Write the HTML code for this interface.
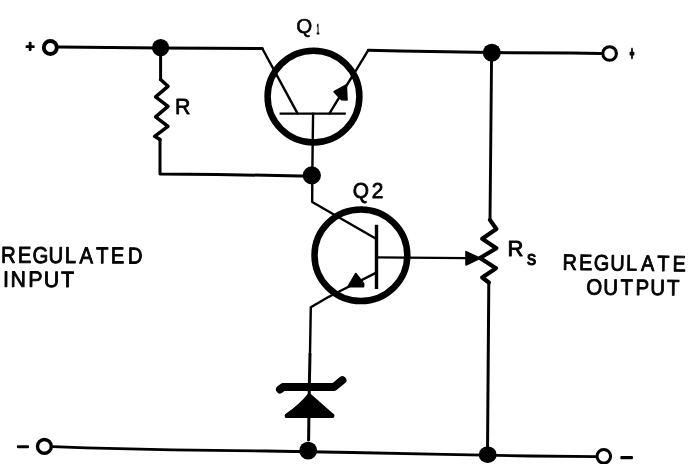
<!DOCTYPE html>
<html>
<head>
<meta charset="utf-8">
<title>Series voltage regulator</title>
<style>
html,body{margin:0;padding:0;background:#fff;}
body{width:688px;height:464px;overflow:hidden;}
svg{display:block;}
text{font-family:"Liberation Sans",sans-serif;fill:#000;stroke:#000;stroke-linejoin:round;}
.w{fill:none;stroke:#000;stroke-width:3;stroke-linecap:round;stroke-linejoin:round;}
.n{fill:none;stroke:#000;stroke-width:2.4;stroke-linecap:round;stroke-linejoin:round;}
.z{fill:none;stroke:#000;stroke-width:3.5;stroke-linecap:round;stroke-linejoin:round;}
.t{fill:none;stroke:#000;stroke-width:2.4;stroke-linecap:butt;}
.v{fill:none;stroke:#000;stroke-width:3.4;stroke-linecap:butt;stroke-linejoin:round;}
.c{fill:none;stroke:#000;stroke-width:6.5;}
.o{fill:#fff;stroke:#000;}
.d{fill:#000;stroke:#000;stroke-width:1.6;stroke-linejoin:round;}
.k{fill:#000;stroke:none;}
</style>
</head>
<body>
<svg width="688" height="464" viewBox="0 0 688 464">
<rect width="688" height="464" fill="#fff"/>

<!-- top rail, input side -->
<path class="w" d="M58 46.9 L160 47.9 L262.3 48.5"/>
<!-- Q1 collector -->
<path class="n" d="M262.3 48.5 L297.5 113.4"/>
<!-- Q1 emitter -->
<path class="n" d="M329.5 113.4 L345 88 L356.3 69.8 L368.3 50.2"/>
<!-- top rail, output side -->
<path class="w" d="M368.3 50.2 L400 51 L492 52.6 L572 53.1 L601 53.4"/>
<!-- resistor R and wire to Q1 base node -->
<path class="w" d="M160.6 48 L160.6 79.5"/>
<path class="z" d="M160.6 79.5 L168 86.3 L155.6 96.9 L168 106.3 L155.6 116.9 L168 126.3 L154.6 136.3 L160 139.6"/>
<path class="w" d="M160 139.6 L160 174.1 L216 174.4 L300 176 L311 176"/>
<!-- Q1 -->
<circle class="c" cx="313.5" cy="96.6" r="45.9"/>
<path class="t" d="M279.6 113.6 L345.8 113.6"/>
<path class="n" d="M313.1 113.6 L312.6 150 L312.3 176"/>
<polygon class="d" points="334,91.8 346.3,85 347,100 341.5,99.6"/>
<!-- Q2 -->
<path class="n" d="M312.3 176 L312.2 202 L376 238.8"/>
<ellipse class="c" cx="360.9" cy="255.2" rx="46.4" ry="45.8"/>
<path class="v" d="M376.5 224.8 L376.5 289"/>
<path class="n" d="M376.5 257.4 L466 258.1"/>
<path class="n" d="M376.3 272.6 L327.5 297.5 L310.8 307.3 L310 354"/>
<path class="w" d="M310 354 L309.3 386 L308.6 440"/>
<polygon class="d" points="348,286.6 355.8,273.5 363.6,283.5 363.6,286.6"/>
<!-- zener diode -->
<path d="M280 389.4 L283 387 L334 387 L342.4 380.2" fill="none" stroke="#000" stroke-width="8" stroke-linecap="round" stroke-linejoin="round"/>
<path class="d" d="M309.2 393.5 L333.6 415 Q334 417.3 332 417.3 L287 417.3 Q285 417.3 285.6 415 Q300 405 309.2 393.5 Z"/>
<!-- bottom rail -->
<path class="w" style="stroke-width:2.8" d="M53 446.6 L86 447.8 L172 449.8 L266 451 L352 452.5 L444 454.4 L530 456 L596 456.7"/>
<!-- output divider with Rs -->
<path class="v" style="stroke-width:2.9" d="M491.6 52.6 L490.8 139 L490 220.5"/>
<path class="z" style="stroke-width:4.1" d="M490 220 L496.4 229 L482.2 238.8 L496.4 248.2 L480 258 L496 268.2 L482.2 277.5 L488.8 282.5"/>
<path class="v" style="stroke-width:3" d="M488.8 282 L488.3 348 L487.5 454"/>
<polygon class="d" points="466,251.6 480,258.2 466,265"/>

<!-- junction dots -->
<circle class="k" cx="160.6" cy="47.7" r="8.6"/>
<circle class="k" cx="311.8" cy="175.4" r="9.1"/>
<circle class="k" cx="308.2" cy="450.6" r="8.9"/>
<circle class="k" cx="491.8" cy="52.7" r="9"/>
<ellipse class="k" cx="487.7" cy="454.7" rx="9" ry="8.3"/>

<!-- terminals -->
<circle class="o" cx="50.3" cy="47.5" r="6.5" style="stroke-width:3.9"/>
<circle class="o" cx="44.4" cy="446.4" r="6.9" style="stroke-width:3.4"/>
<circle class="o" cx="609.6" cy="53.5" r="6.8" style="stroke-width:3.1"/>
<circle class="o" cx="603.8" cy="456.3" r="6.8" style="stroke-width:3.1"/>

<g opacity="0.999">
<!-- polarity marks -->
<text x="30.2" y="51" text-anchor="middle" style="font-size:15px;stroke-width:1.8">+</text>
<text transform="translate(631.9 60.4) scale(0.55 1.25)" x="0" y="0" text-anchor="middle" style="font-size:14px;stroke-width:2">+</text>
<text x="23" y="452.6" text-anchor="middle" style="font-size:19px;stroke-width:1.6" textLength="12.4" lengthAdjust="spacingAndGlyphs">−</text>
<text x="626.7" y="463.6" text-anchor="middle" style="font-size:19px;stroke-width:1.8" textLength="12.8" lengthAdjust="spacingAndGlyphs">−</text>

<!-- labels -->
<text style="font-size:20.5px;stroke-width:0.6" x="296.3" y="33.2"><tspan>Q</tspan><tspan dx="4.2" dy="0.3" style="font-size:14.5px;stroke-width:0.9" textLength="2.9" lengthAdjust="spacingAndGlyphs">1</tspan></text>
<text style="font-size:22px;stroke-width:0.9" x="507.5" y="256.4"><tspan>R</tspan><tspan dx="3.6" dy="8.5" style="font-size:20.8px;stroke-width:1" textLength="9.2" lengthAdjust="spacingAndGlyphs">s</tspan></text>
<text class="lbl" style="font-size:23.00px;stroke-width:0.90" transform="translate(2.25 262.75) rotate(0.31) scale(0.884 1)" x="-1.51 17.60 34.24 52.41 70.69 87.30 105.96 122.75 142.10" y="0">REGULATED</text>
<text class="lbl" style="font-size:22.20px;stroke-width:0.90" transform="translate(4.40 286.75) rotate(0.25) scale(0.960 1)" x="-1.47 6.48 24.82 41.10 58.95" y="0">INPUT</text>
<text class="lbl" style="font-size:22.20px;stroke-width:0.90" transform="translate(563.50 269.80) rotate(0.75) scale(0.894 1)" x="-1.08 17.34 33.96 52.18 70.04 86.58 104.83 121.95" y="0">REGULATE</text>
<text class="lbl" style="font-size:22.20px;stroke-width:0.90" transform="translate(587.25 294.50) rotate(0.50) scale(0.919 1)" x="-1.15 17.50 36.12 52.55 68.59 86.80" y="0">OUTPUT</text>
<text class="lbl" style="font-size:22.90px;stroke-width:0.80" transform="translate(176.40 114.00) rotate(0.00) scale(0.934 1)" x="-1.45" y="0">R</text>
<text class="lbl" style="font-size:21.30px;stroke-width:0.80" transform="translate(353.90 198.00) rotate(0.00) scale(0.983 1)" x="-1.11 18.09" y="0">Q2</text>
</g>
</svg>
</body>
</html>
